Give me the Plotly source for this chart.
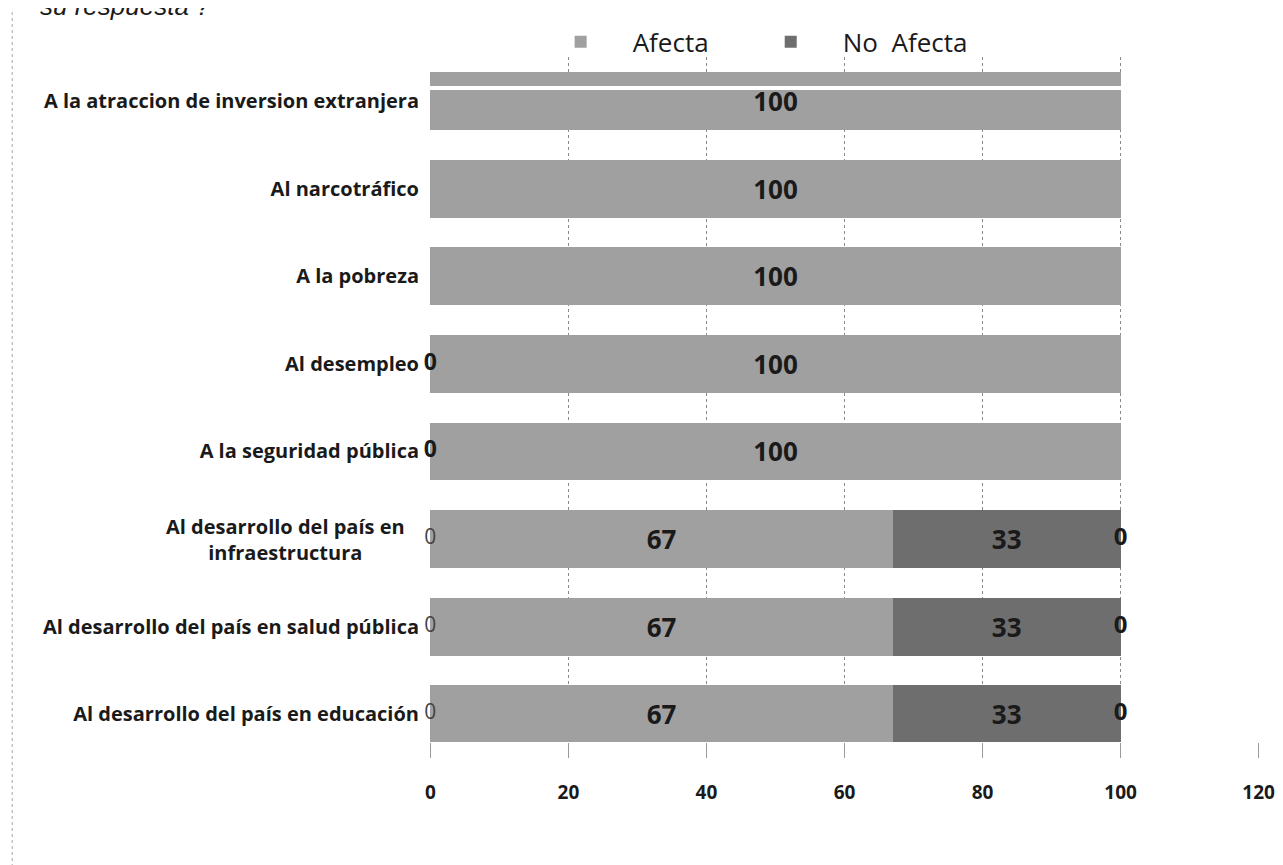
import plotly.graph_objects as go

categories = [
    "A la atraccion de inversion extranjera",
    "Al narcotráfico",
    "A la pobreza",
    "Al desempleo",
    "A la seguridad pública",
    "Al desarrollo del país en infraestructura",
    "Al desarrollo del país en salud pública",
    "Al desarrollo del país en educación",
]
# tick text (the two-line label is drawn as a centred annotation)
tick_labels = [
    "A la atraccion de inversion extranjera",
    "Al narcotráfico",
    "A la pobreza",
    "Al desempleo",
    "A la seguridad pública",
    "",
    "Al desarrollo del país en salud pública",
    "Al desarrollo del país en educación",
]
wrapped_label = "Al desarrollo del país en<br>infraestructura"
afecta = [100, 100, 100, 100, 100, 67, 67, 67]
no_afecta = [0, 0, 0, 0, 0, 33, 33, 33]
zero_left_bold = [None, None, None, 0, 0, None, None, None]
zero_left_light = [None, None, None, None, None, 0, 0, 0]
zero_right = [None, None, None, None, None, 0, 0, 0]
x_ticks = [0, 20, 40, 60, 80, 100, 120]

FONT = "Open Sans"
c_af = "#a0a0a0"
c_no = "#6e6e6e"

fig = go.Figure()
fig.add_trace(go.Bar(
    name="Afecta", y=categories, x=afecta, orientation="h", legend="legend",
    marker=dict(color=c_af, line=dict(width=0)),
    text=[str(v) for v in afecta], textposition="inside", insidetextanchor="middle",
    textfont=dict(family=FONT, size=26, color="#1a1a1a", weight="bold"),
))
fig.add_trace(go.Bar(
    name="No  Afecta", y=categories, x=no_afecta, orientation="h", legend="legend2",
    marker=dict(color=c_no, line=dict(width=0)),
    text=[str(v) if v else "" for v in no_afecta], textposition="inside", insidetextanchor="middle",
    textfont=dict(family=FONT, size=26, color="#1a1a1a", weight="bold"),
))
# zero labels
fig.add_trace(go.Scatter(
    y=categories, x=zero_left_bold, mode="text",
    text=["0" if v is not None else "" for v in zero_left_bold],
    textposition="middle center", showlegend=False, cliponaxis=False,
    textfont=dict(family=FONT, size=23, color="#1a1a1a", weight="bold"),
))
fig.add_trace(go.Scatter(
    y=categories, x=zero_left_light, mode="text",
    text=["0" if v is not None else "" for v in zero_left_light],
    textposition="middle center", showlegend=False, cliponaxis=False,
    textfont=dict(family=FONT, size=21, color="#444444"),
))
right_x = [a + n if z is not None else None for a, n, z in zip(afecta, no_afecta, zero_right)]
fig.add_trace(go.Scatter(
    y=categories, x=right_x, mode="text",
    text=["0" if v is not None else "" for v in zero_right],
    textposition="middle center", showlegend=False, cliponaxis=False,
    textfont=dict(family=FONT, size=24, color="#1a1a1a", weight="bold"),
))

legend_style = dict(
    orientation="h", xanchor="left", y=1.022, yanchor="middle",
    font=dict(family=FONT, size=26, color="#1a1a1a"),
    itemwidth=94, bgcolor="rgba(0,0,0,0)",
)

fig.update_layout(
    width=1283, height=865,
    margin=dict(l=422, r=32, t=49, b=131, autoexpand=False),
    barmode="stack", bargap=0.34,
    plot_bgcolor="white", paper_bgcolor="white",
    font=dict(family=FONT, color="#1a1a1a"),
    legend=dict(x=0.119, **legend_style),
    legend2=dict(x=0.3724, **legend_style),
    xaxis=dict(
        range=[-0.05, 120.05], tickvals=x_ticks, ticktext=[str(v) for v in x_ticks],
        showgrid=True, gridcolor="#8a8a8a", griddash="dot", gridwidth=1,
        ticks="outside", ticklen=15, tickcolor="#9a9a9a",
        showline=False, zeroline=False, automargin=False,
        tickfont=dict(family=FONT, size=19, color="#1a1a1a", weight="bold"),
        ticklabelstandoff=18,
    ),
    yaxis=dict(
        categoryorder="array", categoryarray=categories,
        tickmode="array", tickvals=categories, ticktext=tick_labels,
        range=[7.317, -0.502],
        showgrid=False, zeroline=False, automargin=False,
        showline=False,
        ticks="", ticklabelstandoff=10,
        tickfont=dict(family=FONT, size=20, color="#1a1a1a", weight="bold"),
    ),
    shapes=[
        dict(type="line", xref="paper", yref="y", x0=0, x1=1, y0=-0.148, y1=-0.148,
             line=dict(color="white", width=4), layer="above"),
        dict(type="line", xref="paper", yref="paper", x0=-0.504, x1=-0.504, y0=-0.2, y1=1.066,
             line=dict(color="#aaaaaa", width=1, dash="dot")),
    ],
    annotations=[
        dict(text="su respuesta ?", xref="paper", yref="paper", x=-0.473, y=1.050,
             xanchor="left", yanchor="bottom", showarrow=False,
             font=dict(family="Liberation Sans", size=26, color="#1a1a1a", style="italic")),
        dict(text=wrapped_label, xref="paper", yref="y", x=-0.0277, y=categories[5],
             xanchor="right", yanchor="middle", align="center", showarrow=False,
             font=dict(family=FONT, size=20, color="#1a1a1a", weight="bold")),
    ],
)

fig.write_html("out.html")
